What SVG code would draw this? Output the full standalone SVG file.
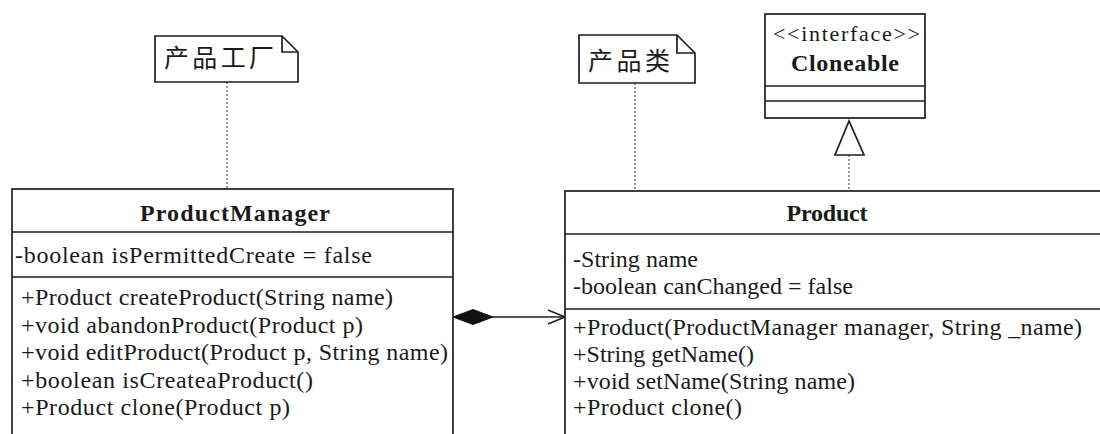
<svg xmlns="http://www.w3.org/2000/svg" width="1100" height="434" viewBox="0 0 1100 434">
<style>
.box{fill:#fff;stroke:#1e1e1e;stroke-width:1.7}
.ln{stroke:#1e1e1e;stroke-width:1.7;fill:none}
.dot{stroke:#444;stroke-width:1.1;stroke-dasharray:2 2;fill:none}
.t{font-family:"Liberation Serif","Times New Roman",serif;font-size:24px;fill:#1a1a1a}
.b{font-weight:bold;text-anchor:middle}
.cjk{font-family:"Noto Sans CJK SC",sans-serif;font-size:25px;fill:#1a1a1a}
</style>
<defs>
<marker id="open" markerWidth="20" markerHeight="16" refX="18" refY="8" orient="auto" markerUnits="userSpaceOnUse">
<path d="M1,1 L18,8 L1,15" fill="none" stroke="#1e1e1e" stroke-width="1.7"/>
</marker>
</defs>
<rect width="1100" height="434" fill="#fff"/>

<g id="connectors">
<path class="dot" d="M227,82 V189"/>
<path class="dot" d="M635,83 V191"/>
<path class="dot" d="M849,155 V191"/>
<polygon points="849,121 835,155 864,155" fill="#fff" stroke="#1e1e1e" stroke-width="1.7"/>
<path class="ln" d="M493,317 H565" marker-end="url(#open)"/>
<polygon points="453,317 473,309.5 493,317 473,324.5" fill="#111" stroke="#111" stroke-width="1"/>
</g>

<g id="note-factory">
<path class="box" d="M155,36 H282 L298,52 V82 H155 Z"/>
<path class="ln" d="M282,36 V52 H298"/>
<text class="cjk" x="164" y="67" textLength="110">产品工厂</text>
</g>

<g id="note-product">
<path class="box" d="M579,35 H677 L695,53 V83 H579 Z"/>
<path class="ln" d="M677,35 V53 H695"/>
<text class="cjk" x="588" y="70" textLength="82">产品类</text>
</g>

<g id="cloneable">
<rect class="box" x="765" y="14" width="160" height="104"/>
<path class="ln" d="M765,86 H925 M765,101 H925"/>
<text class="t" x="773" y="41" textLength="147" style="font-size:22px">&lt;&lt;interface&gt;&gt;</text>
<text class="t b" x="845" y="71" textLength="108">Cloneable</text>
</g>

<g id="ProductManager">
<rect class="box" x="12" y="189" width="441" height="260"/>
<path class="ln" d="M12,232 H453 M12,277 H453"/>
<text class="t b" x="235" y="221" textLength="190">ProductManager</text>
<text class="t" x="15" y="263" textLength="357">-boolean isPermittedCreate = false</text>
<text class="t" x="21" y="305" textLength="372">+Product createProduct(String name)</text>
<text class="t" x="21" y="332.5" textLength="342">+void abandonProduct(Product p)</text>
<text class="t" x="21" y="360" textLength="427">+void editProduct(Product p, String name)</text>
<text class="t" x="21" y="387.5" textLength="292">+boolean isCreateaProduct()</text>
<text class="t" x="21" y="415" textLength="269">+Product clone(Product p)</text>
</g>

<g id="Product">
<rect class="box" x="565" y="191" width="600" height="260"/>
<path class="ln" d="M565,234 H1100 M565,309 H1100"/>
<text class="t b" x="827" y="221" textLength="81">Product</text>
<text class="t" x="573" y="267" textLength="125">-String name</text>
<text class="t" x="573" y="294" textLength="280">-boolean canChanged = false</text>
<text class="t" x="573" y="335" textLength="509">+Product(ProductManager manager, String _name)</text>
<text class="t" x="573" y="362" textLength="181">+String getName()</text>
<text class="t" x="573" y="389" textLength="282">+void setName(String name)</text>
<text class="t" x="573" y="415" textLength="169">+Product clone()</text>
</g>
</svg>
